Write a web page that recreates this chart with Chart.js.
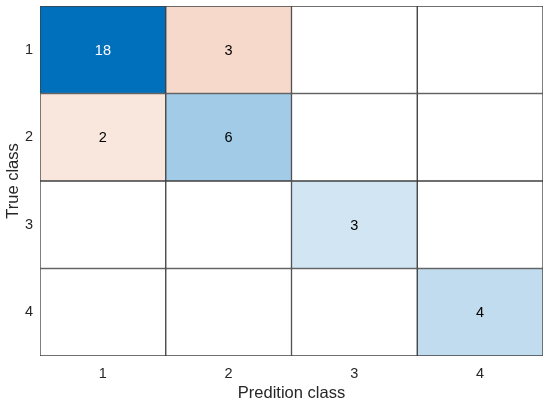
<!DOCTYPE html>
<html>
<head>
<meta charset="utf-8">
<script src="https://cdn.jsdelivr.net/npm/chart.js@4/dist/chart.umd.min.js"></script>
<style>
  html, body { margin: 0; padding: 0; background: #fff; }
  #wrap { width: 550px; height: 406px; }
</style>
</head>
<body>
<div id="wrap"><canvas id="cm"></canvas></div>
<script>
// classes of the confusion matrix
const classes = ['1', '2', '3', '4']
// counts per true class (row), one entry per predicted class
const trueClass1 = [18, 3, 0, 0]
const trueClass2 = [2, 6, 0, 0]
const trueClass3 = [0, 0, 3, 0]
const trueClass4 = [0, 0, 0, 4]
const rows = [trueClass1, trueClass2, trueClass3, trueClass4]

const font = 'Liberation Sans, Arial, sans-serif'

function mix (base, t) {
  t = Math.min(t, 1)
  let c = base.map(v => Math.round(255 - (255 - v) * t))
  return 'rgb(' + c.join(',') + ')'
}

function cellColor (value, onDiag) {
  if (!value) return '#ffffff'
  if (onDiag) return mix([0, 112, 189], value / 16.5)
  return mix([217, 83, 25], value / 13.5)
}

// one dataset per predicted class (column)
let datasets = []
for (let j = 0; j < classes.length; j++) {
  datasets.push({
    data: rows.map(() => [j + 0.5, j + 1.5]),
    counts: rows.map(r => r[j]),
    backgroundColor: rows.map((r, i) => cellColor(r[j], i === j)),
    borderColor: '#404040',
    borderWidth: 1,
    borderSkipped: false,
    grouped: false,
    barPercentage: 1,
    categoryPercentage: 1
  })
}

const cellLabels = {
  id: 'cellLabels',
  afterDatasetsDraw (chart) {
    const ctx = chart.ctx
    ctx.save()
    ctx.font = '14.5px ' + font
    ctx.textAlign = 'center'
    ctx.textBaseline = 'middle'
    chart.data.datasets.forEach((ds, j) => {
      chart.getDatasetMeta(j).data.forEach((bar, i) => {
        let v = ds.counts[i]
        if (!v) return
        ctx.fillStyle = v > 12 ? '#ffffff' : '#000000'
        ctx.fillText(String(v), (bar.x + bar.base) / 2, bar.y + 1)
      })
    })
    ctx.restore()
  }
}

new Chart(document.getElementById('cm'), {
  type: 'bar',
  data: { labels: classes, datasets: datasets },
  options: {
    indexAxis: 'y',
    responsive: true,
    maintainAspectRatio: false,
    animation: false,
    layout: { padding: { left: 0, top: 6, right: 7, bottom: 0 } },
    plugins: { legend: { display: false }, tooltip: { enabled: false } },
    scales: {
      x: {
        type: 'linear',
        min: 0.5,
        max: 4.5,
        grid: { display: false, drawTicks: false },
        border: { display: false },
        afterBuildTicks: s => { s.ticks = classes.map((c, i) => ({ value: i + 1 })) },
        afterFit: s => { s.height = 50; s.paddingLeft = 0; s.paddingRight = 0 },
        ticks: {
          padding: 9,
          color: '#262626',
          font: { family: font, size: 14.5 },
          callback: v => classes[v - 1]
        },
        title: {
          display: true,
          text: 'Predition class',
          color: '#262626',
          font: { family: font, size: 16.5 },
          padding: { top: 0, bottom: 3 }
        }
      },
      y: {
        type: 'category',
        grid: { display: false, drawTicks: false },
        border: { display: false },
        afterFit: s => { s.width = 40; s.paddingTop = 0; s.paddingBottom = 0 },
        ticks: {
          padding: 7,
          color: '#262626',
          font: { family: font, size: 14.5 }
        },
        title: {
          display: true,
          text: 'True class',
          color: '#262626',
          font: { family: font, size: 16.5 },
          padding: { top: 4, bottom: 0 }
        }
      }
    }
  },
  plugins: [cellLabels]
})
</script>
</body>
</html>
